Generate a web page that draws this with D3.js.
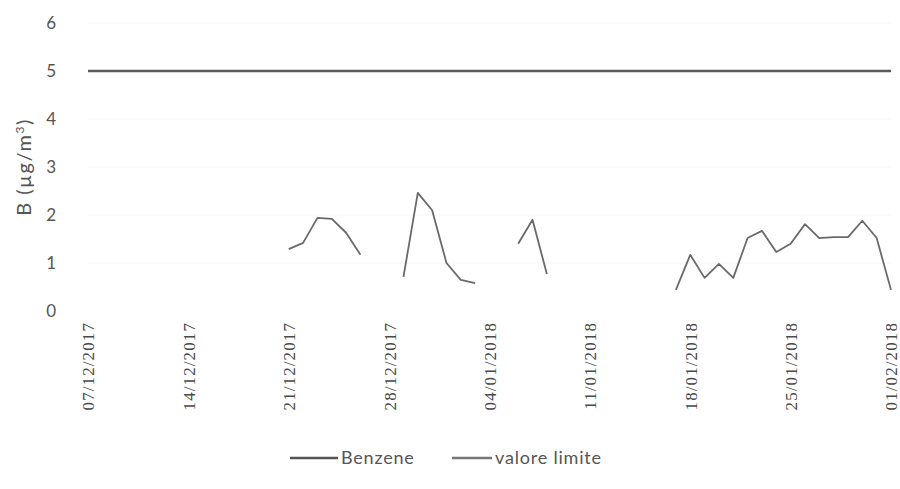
<!DOCTYPE html>
<html>
<head>
<meta charset="utf-8">
<script src="https://cdn.jsdelivr.net/npm/d3@7"></script>
<style>
  html, body { margin: 0; padding: 0; background: #fff; }
  svg { display: block; }
</style>
</head>
<body>
<svg id="chart" width="900" height="489"></svg>
<script>
// ---- data ----
const dates = [
  "2017-12-21","2017-12-22","2017-12-23","2017-12-24","2017-12-25","2017-12-26","2017-12-27","2017-12-28",
  "2017-12-29","2017-12-30","2017-12-31","2018-01-01","2018-01-02","2018-01-03","2018-01-04","2018-01-05",
  "2018-01-06","2018-01-07","2018-01-08","2018-01-09","2018-01-10","2018-01-11","2018-01-12","2018-01-13",
  "2018-01-14","2018-01-15","2018-01-16","2018-01-17","2018-01-18","2018-01-19","2018-01-20","2018-01-21",
  "2018-01-22","2018-01-23","2018-01-24","2018-01-25","2018-01-26","2018-01-27","2018-01-28","2018-01-29",
  "2018-01-30","2018-01-31","2018-02-01"
];
const benzene = [
  1.29, 1.42, 1.94, 1.92, 1.63, 1.17, null, null,
  0.71, 2.46, 2.10, 1.00, 0.65, 0.58, null, null,
  1.40, 1.90, 0.77, null, null, null, null, null,
  null, null, null, 0.44, 1.17, 0.69, 0.98, 0.69,
  1.52, 1.67, 1.23, 1.40, 1.81, 1.52, 1.54, 1.54,
  1.88, 1.52, 0.44
];
const limitDates = ["2017-12-07", "2018-02-01"];
const limitValue = [5, 5];
const xTickLabels = ["07/12/2017","14/12/2017","21/12/2017","28/12/2017","04/01/2018","11/01/2018","18/01/2018","25/01/2018","01/02/2018"];
const yTicks = [0, 1, 2, 3, 4, 5, 6];
const seriesNames = ["Benzene", "valore limite"];

// ---- layout ----
const svg = d3.select("#chart");
const parse = d3.utcParse("%Y-%m-%d");
const parseLabel = d3.utcParse("%d/%m/%Y");

const x = d3.scaleUtc()
  .domain([parse("2017-12-07"), parse("2018-02-01")])
  .range([88, 891]);
const y = d3.scaleLinear().domain([0, 6]).range([311, 23]);

// faint gridlines (almost invisible in the scan)
svg.append("g").selectAll("line").data(yTicks.filter(d => d > 0)).join("line")
  .attr("x1", 88).attr("x2", 891)
  .attr("y1", d => y(d)).attr("y2", d => y(d))
  .attr("stroke", "#f5f5f5").attr("stroke-width", 1);

// y axis tick labels
const yAxis = d3.axisLeft(y).tickValues(yTicks).tickSize(0).tickPadding(0).tickFormat(d3.format("d"));
const gy = svg.append("g").attr("transform", "translate(56,0)").call(yAxis);
gy.select(".domain").remove();
gy.selectAll("text")
  .attr("font-family", "Lato, 'Open Sans', sans-serif")
  .attr("font-size", 17).attr("fill", "#555");

// y title
svg.append("text")
  .attr("transform", "translate(31,167) rotate(-90)")
  .attr("text-anchor", "middle")
  .attr("font-family", "Lato, 'Open Sans', sans-serif")
  .attr("font-size", 20).attr("fill", "#555")
  .attr("letter-spacing", 1.5)
  .html("B (µg/m<tspan baseline-shift='super' font-size='12'>3</tspan>)");

// x axis labels
const xAxis = d3.axisBottom(x)
  .tickValues(xTickLabels.map(parseLabel))
  .tickSize(0).tickPadding(0)
  .tickFormat(d3.utcFormat("%d/%m/%Y"));
const gx = svg.append("g").attr("transform", "translate(0,322)").call(xAxis);
gx.select(".domain").remove();
gx.selectAll("text")
  .attr("font-family", "'Liberation Serif', serif")
  .attr("font-size", 17).attr("fill", "#4a4a4a")
  .attr("letter-spacing", 1.1)
  .attr("text-anchor", "end")
  .attr("dy", "0.35em")
  .attr("transform", "rotate(-90)")
  .attr("x", 0).attr("y", 0);

// limit line
const limitData = limitDates.map((d, i) => ({ date: parse(d), v: limitValue[i] }));
svg.append("path")
  .datum(limitData)
  .attr("fill", "none")
  .attr("stroke", "#5a5a5a").attr("stroke-width", 2.6)
  .attr("d", d3.line().x(d => x(d.date)).y(d => y(d.v)));

// benzene line
const bData = dates.map((d, i) => ({ date: parse(d), v: benzene[i] }));
svg.append("path")
  .datum(bData)
  .attr("fill", "none")
  .attr("stroke", "#6a6a6a").attr("stroke-width", 1.8)
  .attr("stroke-linejoin", "round")
  .attr("d", d3.line().defined(d => d.v !== null).x(d => x(d.date)).y(d => y(d.v)));

// legend
const legend = svg.append("g").attr("transform", "translate(0,458)");
const legendItems = [
  { name: seriesNames[0], x0: 290, len: 48, color: "#555" },
  { name: seriesNames[1], x0: 452, len: 40, color: "#777" }
];
legendItems.forEach(it => {
  legend.append("line")
    .attr("x1", it.x0).attr("x2", it.x0 + it.len)
    .attr("y1", 0).attr("y2", 0)
    .attr("stroke", it.color).attr("stroke-width", 2.4);
  legend.append("text")
    .attr("x", it.x0 + it.len + 3).attr("y", 0).attr("dy", "0.35em")
    .attr("font-family", "Lato, 'Open Sans', sans-serif")
    .attr("font-size", 18).attr("fill", "#555")
    .attr("letter-spacing", 0.8)
    .text(it.name);
});
</script>
</body>
</html>
